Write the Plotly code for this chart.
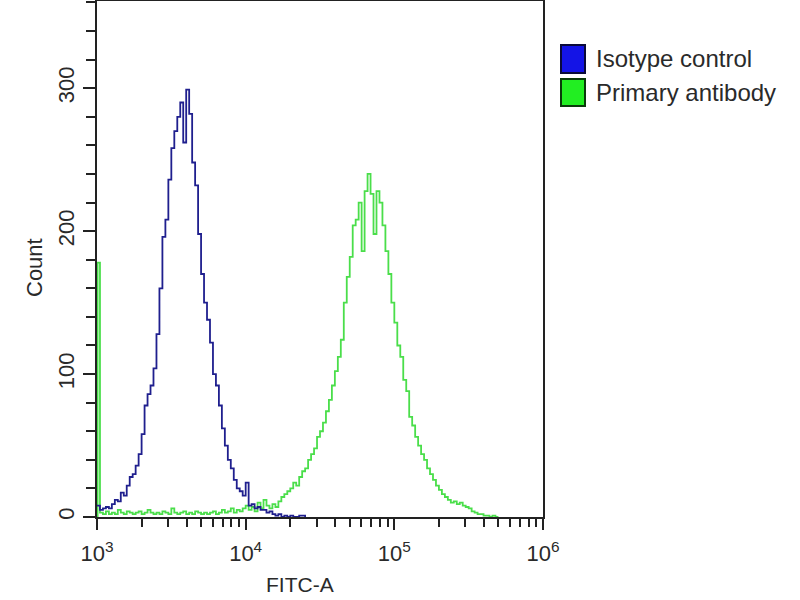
import plotly.graph_objects as go

# ---- data ----
# log10(FITC-A) channel positions and event counts
blue_log_fitc = [3.00, 3.02, 3.04, 3.06, 3.08, 3.10, 3.12, 3.14, 3.16, 3.18,
                 3.20, 3.22, 3.24, 3.26, 3.28, 3.30, 3.32, 3.34, 3.36, 3.38,
                 3.40, 3.42, 3.44, 3.46, 3.48, 3.50, 3.52, 3.54, 3.56, 3.58,
                 3.60, 3.62, 3.64, 3.66, 3.68, 3.70, 3.72, 3.74, 3.76, 3.78,
                 3.80, 3.82, 3.84, 3.86, 3.88, 3.90, 3.92, 3.94, 3.96, 3.98,
                 4.00, 4.02, 4.04, 4.06, 4.08, 4.10, 4.12, 4.14, 4.16, 4.18,
                 4.20, 4.22, 4.24, 4.26, 4.28, 4.30, 4.32, 4.36, 4.40]
blue_counts = [8, 5, 6, 7, 6, 9, 12, 11, 17, 15,
               22, 28, 30, 36, 44, 58, 78, 86, 92, 104,
               128, 160, 196, 208, 236, 258, 270, 280, 290, 262,
               299, 282, 248, 232, 198, 170, 150, 138, 122, 100,
               92, 78, 62, 50, 40, 34, 26, 20, 18, 15,
               24, 8, 9, 6, 7, 5, 5, 3, 4, 2,
               1, 2, 0, 1, 0, 1, 0, 1, 0]

green_log_fitc = [3.000, 3.004, 3.02, 3.04, 3.06, 3.08, 3.10, 3.12, 3.14, 3.16, 3.18,
                  3.20, 3.22, 3.24, 3.26, 3.28, 3.30, 3.32, 3.34, 3.36, 3.38,
                  3.40, 3.42, 3.44, 3.46, 3.48, 3.50, 3.52, 3.54, 3.56, 3.58,
                  3.60, 3.62, 3.64, 3.66, 3.68, 3.70, 3.72, 3.74, 3.76, 3.78,
                  3.80, 3.82, 3.84, 3.86, 3.88, 3.90, 3.92, 3.94, 3.96, 3.98,
                  4.00, 4.02, 4.04, 4.06, 4.08, 4.10, 4.12, 4.14, 4.16, 4.18,
                  4.20, 4.22, 4.24, 4.26, 4.28, 4.30, 4.32, 4.34, 4.36, 4.38,
                  4.40, 4.42, 4.44, 4.46, 4.48, 4.50, 4.52, 4.54, 4.56, 4.58,
                  4.60, 4.62, 4.64, 4.66, 4.68, 4.70, 4.72, 4.74, 4.76, 4.78,
                  4.80, 4.82, 4.84, 4.86, 4.88, 4.90, 4.92, 4.94, 4.96, 4.98,
                  5.00, 5.02, 5.04, 5.06, 5.08, 5.10, 5.12, 5.14, 5.16, 5.18,
                  5.20, 5.22, 5.24, 5.26, 5.28, 5.30, 5.32, 5.34, 5.36, 5.38,
                  5.40, 5.42, 5.44, 5.46, 5.48, 5.50, 5.52, 5.54, 5.56, 5.58,
                  5.60, 5.62, 5.64, 5.66, 5.68, 5.70]
green_counts = [0, 178, 3, 2, 4, 2, 3, 2, 5, 3, 2,
                4, 3, 2, 3, 4, 2, 3, 5, 3, 2,
                3, 2, 4, 3, 2, 6, 3, 2, 3, 4,
                2, 3, 2, 4, 3, 2, 3, 2, 3, 4,
                2, 3, 5, 3, 4, 6, 3, 5, 4, 6,
                8, 5, 7, 4, 10, 6, 12, 8, 6, 9,
                7, 11, 14, 16, 18, 20, 24, 22, 28, 32,
                34, 40, 44, 48, 56, 60, 66, 74, 82, 92,
                102, 112, 124, 150, 168, 182, 204, 208, 220, 186,
                228, 240, 226, 198, 228, 220, 204, 186, 170, 150,
                136, 120, 112, 96, 88, 70, 64, 56, 50, 44,
                40, 34, 30, 26, 22, 19, 16, 14, 12, 10,
                11, 9, 10, 8, 7, 6, 4, 3, 2, 2,
                1, 1, 0, 1, 0, 0]

series_names = ["Isotype control", "Primary antibody"]
x_tick_values = [1e3, 1e4, 1e5, 1e6]
x_tick_labels = ["10<sup>3</sup>", "10<sup>4</sup>", "10<sup>5</sup>", "10<sup>6</sup>"]
y_tick_values = [0, 100, 200, 300]
x_title = "FITC-A"
y_title = "Count"

# ---- styling ----
FONT = "Liberation Sans, Arial, sans-serif"
TXT = "#2a2a2a"
BLUE_LINE = "#1f1f8e"
GREEN_LINE = "#4ade4a"

fig = go.Figure()
fig.add_trace(go.Scatter(
    x=[10 ** v for v in green_log_fitc], y=green_counts, mode="lines",
    line=dict(color=GREEN_LINE, width=1.8, shape="hv"),
    name=series_names[1], showlegend=False))
fig.add_trace(go.Scatter(
    x=[10 ** v for v in blue_log_fitc], y=blue_counts, mode="lines",
    line=dict(color=BLUE_LINE, width=1.8, shape="hv"),
    name=series_names[0], showlegend=False))

L, R, T, B = 97, 543, 1, 517
W, H = 800, 600

def px_x(p):
    return (p - L) / (R - L)

def px_y(p):
    return (B - p) / (B - T)

fig.update_layout(
    width=W, height=H,
    margin=dict(l=L, r=W - R, t=T, b=H - B, pad=0, autoexpand=False),
    paper_bgcolor="white", plot_bgcolor="white",
    font=dict(family=FONT, color=TXT, size=21),
    xaxis=dict(
        type="log", range=[3, 6], tickvals=x_tick_values, ticktext=x_tick_labels,
        automargin=False,
        ticks="outside", ticklen=11, tickwidth=2, tickcolor="#222",
        minor=dict(ticks="outside", ticklen=8, tickwidth=2, tickcolor="#222",
                   tickvals=[2e3, 3e3, 4e3, 5e3, 6e3, 7e3, 8e3, 9e3,
                             2e4, 3e4, 4e4, 5e4, 6e4, 7e4, 8e4, 9e4,
                             2e5, 3e5, 4e5, 5e5, 6e5, 7e5, 8e5, 9e5]),
        showline=True, linecolor="#222", linewidth=2, mirror=True,
        showgrid=False, zeroline=False, layer="below traces",
        tickfont=dict(size=22, family=FONT, color=TXT), ticklabelstandoff=5),
    yaxis=dict(
        range=[0, 361], tickvals=y_tick_values, tickangle=-90,
        automargin=False,
        ticks="outside", ticklen=12, tickwidth=2, tickcolor="#222",
        minor=dict(ticks="outside", ticklen=9, tickwidth=2, tickcolor="#222", dtick=20),
        showline=True, linecolor="#222", linewidth=2, mirror=True,
        showgrid=False, zeroline=False, layer="below traces",
        tickfont=dict(size=22, family=FONT, color=TXT), ticklabelstandoff=0),
)

# axis titles
fig.add_annotation(x=px_x(300), y=px_y(584), xref="paper", yref="paper",
                   text=x_title, showarrow=False, font=dict(size=21, family=FONT, color=TXT),
                   xanchor="center", yanchor="middle")
fig.add_annotation(x=px_x(34), y=px_y(268), xref="paper", yref="paper",
                   text=y_title, showarrow=False, textangle=-90,
                   font=dict(size=22, family=FONT, color=TXT),
                   xanchor="center", yanchor="middle")

# legend (drawn as swatches + labels to the right of the plot)
legend_fill = ["#1414e6", "#22ee22"]
legend_border = ["#0a0a3a", "#0a3a0a"]
legend_rows = [(45, 73), (79, 106)]
for i, (y0, y1) in enumerate(legend_rows):
    fig.add_shape(type="rect", xref="paper", yref="paper",
                  x0=px_x(561), x1=px_x(585), y0=px_y(y1), y1=px_y(y0),
                  fillcolor=legend_fill[i], line=dict(color=legend_border[i], width=2))
    fig.add_annotation(x=px_x(594), y=px_y((y0 + y1) / 2), xref="paper", yref="paper",
                       text=series_names[i], showarrow=False,
                       font=dict(size=24, family=FONT, color=TXT),
                       xanchor="left", yanchor="middle")

fig.write_html("out.html", config={"displayModeBar": False},
               post_script="document.body.style.margin='0';")
